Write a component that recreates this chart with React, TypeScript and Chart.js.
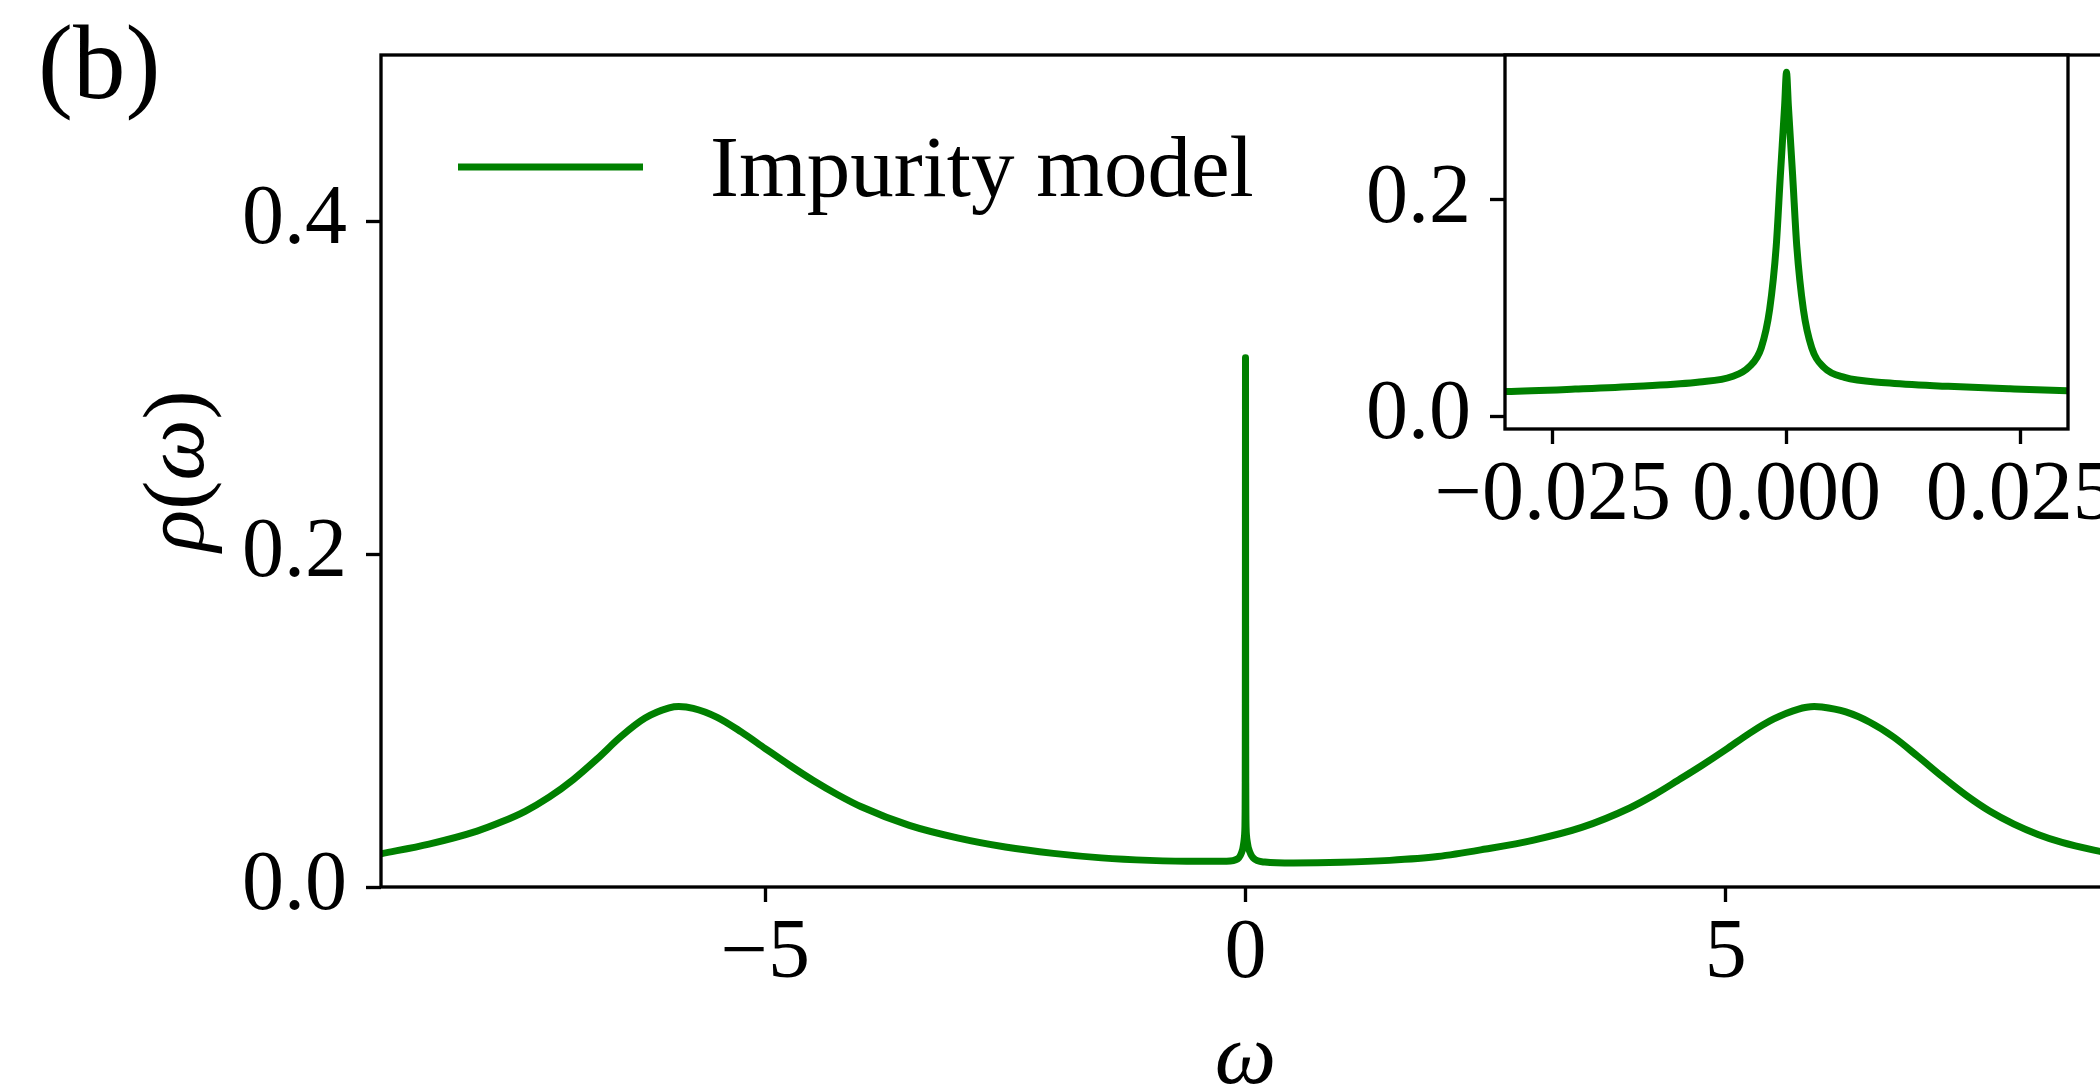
import React, { useEffect, useRef } from "react";
import { Chart, registerables } from "chart.js";

Chart.register(...registerables);

// Spectral function rho(omega): Hubbard bands at about ±6 and a narrow quasiparticle peak at 0.
const omega = [
  -9.0, -8.5, -8.0, -7.75, -7.5, -7.25, -7.0, -6.75, -6.5, -6.25, -6.0, -5.9, -5.75, -5.5, -5.25, -5.0,
  -4.75, -4.5, -4.25, -4.0, -3.5, -3.0, -2.5, -2.0, -1.5, -1.0, -0.5, -0.2, -0.08,
  -0.03, -0.0226, -0.0159, -0.0093, -0.0058, -0.004, -0.0027, -0.0018, -0.0011, -0.00066, -0.0002, 0,
  0.0002, 0.00066, 0.0011, 0.0018, 0.0027, 0.004, 0.0062, 0.0106, 0.0173, 0.0239, 0.03,
  0.08, 0.2, 0.5, 1.0, 1.5, 2.0, 2.5, 3.0, 3.5, 4.0, 4.25, 4.5, 4.75, 5.0, 5.25, 5.5, 5.75, 5.92, 6.0,
  6.25, 6.5, 6.75, 7.0, 7.25, 7.5, 7.75, 8.0, 8.25, 8.5, 9.0,
];
const rho = [
  0.02, 0.0258, 0.0336, 0.039, 0.0455, 0.054, 0.0645, 0.077, 0.0905, 0.1015, 0.1076, 0.1084, 0.1074, 0.102, 0.0932, 0.0832,
  0.0733, 0.064, 0.0556, 0.0482, 0.037, 0.0295, 0.024, 0.0202, 0.0175, 0.016, 0.0154, 0.0155, 0.017,
  0.0226, 0.0249, 0.0275, 0.0314, 0.0366, 0.0454, 0.0631, 0.0987, 0.157, 0.222, 0.287, 0.318,
  0.287, 0.222, 0.157, 0.0987, 0.063, 0.045, 0.0357, 0.0308, 0.0275, 0.0252, 0.0235,
  0.0175, 0.015, 0.0144, 0.0148, 0.016, 0.0183, 0.0228, 0.0282, 0.0358, 0.0475, 0.0552, 0.064, 0.073, 0.0825, 0.0925, 0.101, 0.1068, 0.1084, 0.1082,
  0.1052, 0.099, 0.09, 0.0785, 0.0665, 0.0552, 0.0455, 0.0378, 0.0316, 0.0268, 0.02,
];

const seriesLabel = "Impurity model";
const panelLabel = "(b)";

// Main axes
const mainXRange = [-9, 9];
const mainYRange = [0, 0.5];
const mainXTicks = [-5, 0, 5];
const mainXTickLabels = ["\u22125", "0", "5"];
const mainYTicks = [0, 0.2, 0.4];
const mainYTickLabels = ["0.0", "0.2", "0.4"];

// Inset axes (zoom on the quasiparticle peak)
const insetXRange = [-0.0301, 0.0301];
const insetYRange = [-0.012, 0.334];
const insetXTicks = [-0.025, 0, 0.025];
const insetXTickLabels = ["\u22120.025", "0.000", "0.025"];
const insetYTicks = [0, 0.2];
const insetYTickLabels = ["0.0", "0.2"];

const GREEN = "#008000";
const SERIF = "'Liberation Serif', 'Times New Roman', serif";
const TICK_FONT = 84;
const LABEL_FONT = 87;
const SPINE_W = 3.33;
const TICK_LEN = 15;
const LINE_W = 7;

const points = omega.map((w, i) => ({ x: w, y: rho[i] }));

function makeScale(
  range: number[],
  ticks: number[],
  labels: string[],
  horizontal: boolean,
  size: number
) {
  return {
    type: "linear" as const,
    position: horizontal ? "bottom" : "left",
    min: range[0],
    max: range[1],
    border: { display: false },
    grid: {
      display: true,
      drawOnChartArea: false,
      drawTicks: true,
      tickLength: TICK_LEN,
      tickWidth: SPINE_W,
      tickColor: "#000",
    },
    ticks: {
      autoSkip: false,
      maxRotation: 0,
      minRotation: 0,
      padding: horizontal ? 3 : 19,
      color: "#000",
      font: { family: SERIF, size: TICK_FONT },
      callback: (_v: number, i: number) => labels[i],
    },
    afterBuildTicks: (s: any) => {
      s.ticks = ticks.map((value) => ({ value }));
    },
    afterFit: (s: any) => {
      if (horizontal) {
        s.height = size;
        s.paddingLeft = 0;
        s.paddingRight = 0;
      } else {
        s.width = size;
        s.paddingTop = 0;
        s.paddingBottom = 0;
      }
    },
  };
}

function lineDataset() {
  return {
    label: seriesLabel,
    data: points,
    borderColor: GREEN,
    backgroundColor: GREEN,
    borderWidth: LINE_W,
    pointRadius: 0,
    fill: false,
    cubicInterpolationMode: "monotone" as const,
    borderJoinStyle: "round" as const,
  };
}

const framePlugin = {
  id: "frame",
  beforeDraw(chart: any) {
    const { ctx, chartArea: a } = chart;
    ctx.save();
    ctx.fillStyle = "#fff";
    ctx.fillRect(a.left, a.top, a.right - a.left, a.bottom - a.top);
    ctx.restore();
  },
  afterDraw(chart: any) {
    const { ctx, chartArea: a } = chart;
    ctx.save();
    ctx.strokeStyle = "#000";
    ctx.lineWidth = SPINE_W;
    ctx.strokeRect(a.left, a.top, a.right - a.left, a.bottom - a.top);
    ctx.restore();
  },
};

const annotationsPlugin = {
  id: "annotations",
  afterDraw(chart: any) {
    const { ctx, chartArea: a } = chart;
    ctx.save();
    ctx.fillStyle = "#000";
    ctx.textBaseline = "alphabetic";

    // panel label
    ctx.textAlign = "left";
    ctx.font = `105px ${SERIF}`;
    ctx.fillText(panelLabel, 38, 98);

    // legend entry
    ctx.strokeStyle = GREEN;
    ctx.lineWidth = LINE_W;
    ctx.lineCap = "butt";
    ctx.beginPath();
    ctx.moveTo(458, 167);
    ctx.lineTo(643, 167);
    ctx.stroke();
    ctx.font = `${LABEL_FONT}px ${SERIF}`;
    ctx.fillText(chart.data.datasets[0].label, 710, 196);

    // x axis title
    ctx.textAlign = "center";
    ctx.font = `italic ${LABEL_FONT}px ${SERIF}`;
    ctx.fillText("\u03c9", (a.left + a.right) / 2, 1083);

    // y axis title rho(omega), rotated
    const parts: [string, boolean][] = [
      ["\u03c1", true],
      ["(", false],
      ["\u03c9", true],
      [")", false],
    ];
    const fontOf = (it: boolean) => `${it ? "italic " : ""}${LABEL_FONT}px ${SERIF}`;
    let total = 0;
    const widths = parts.map(([t, it]) => {
      ctx.font = fontOf(it);
      const w = ctx.measureText(t).width;
      total += w;
      return w;
    });
    ctx.translate(203, (a.top + a.bottom) / 2);
    ctx.rotate(-Math.PI / 2);
    ctx.textAlign = "left";
    let x = -total / 2;
    parts.forEach(([t, it], i) => {
      ctx.font = fontOf(it);
      ctx.fillText(t, x, 0);
      x += widths[i];
    });
    ctx.restore();
  },
};

export default function App() {
  const mainRef = useRef<HTMLCanvasElement>(null);
  const insetRef = useRef<HTMLCanvasElement>(null);

  useEffect(() => {
    let main: Chart | null = null;
    let inset: Chart | null = null;
    let cancelled = false;

    const build = () => {
      if (cancelled || !mainRef.current || !insetRef.current) return;
      main = new Chart(mainRef.current, {
        type: "line",
        data: { datasets: [lineDataset()] },
        options: {
          responsive: false,
          animation: false,
          devicePixelRatio: 1,
          events: [],
          layout: { padding: { left: 0, top: 55, right: 30, bottom: 0 } },
          plugins: { legend: { display: false }, tooltip: { enabled: false } },
          scales: {
            x: makeScale(mainXRange, mainXTicks, mainXTickLabels, true, 200),
            y: makeScale(mainYRange, mainYTicks, mainYTickLabels, false, 381),
          },
        } as any,
        plugins: [framePlugin, annotationsPlugin],
      });
      inset = new Chart(insetRef.current, {
        type: "line",
        data: { datasets: [lineDataset()] },
        options: {
          responsive: false,
          animation: false,
          devicePixelRatio: 1,
          events: [],
          layout: { padding: { left: 0, top: 55, right: 32, bottom: 0 } },
          plugins: { legend: { display: false }, tooltip: { enabled: false } },
          scales: {
            x: makeScale(insetXRange, insetXTicks, insetXTickLabels, true, 131),
            y: makeScale(insetYRange, insetYTicks, insetYTickLabels, false, 205),
          },
        } as any,
        plugins: [framePlugin],
      });
    };

    const fonts = (document as any).fonts;
    if (fonts && fonts.load) {
      Promise.all([
        fonts.load(`${TICK_FONT}px "Liberation Serif"`),
        fonts.load(`italic ${TICK_FONT}px "Liberation Serif"`),
      ])
        .catch(() => undefined)
        .then(build);
    } else {
      build();
    }

    return () => {
      cancelled = true;
      if (main) main.destroy();
      if (inset) inset.destroy();
    };
  }, []);

  return (
    <div
      style={{
        position: "fixed",
        left: 0,
        top: 0,
        width: 2100,
        height: 1087,
        overflow: "hidden",
        background: "#fff",
      }}
    >
      <canvas
        ref={mainRef}
        width={2140}
        height={1087}
        style={{ position: "absolute", left: 0, top: 0, width: 2140, height: 1087 }}
      />
      <canvas
        ref={insetRef}
        width={800}
        height={560}
        style={{ position: "absolute", left: 1300, top: 0, width: 800, height: 560 }}
      />
    </div>
  );
}
